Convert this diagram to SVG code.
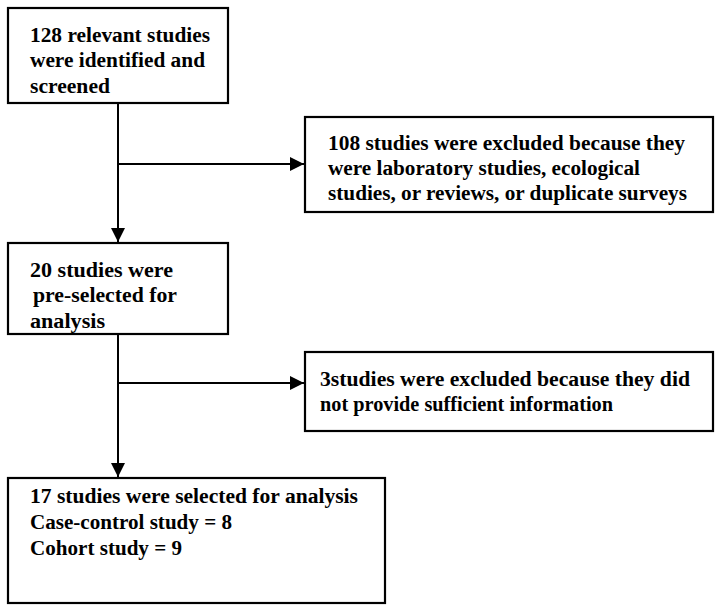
<svg xmlns="http://www.w3.org/2000/svg" width="721" height="612" viewBox="0 0 721 612">
<defs>
<style>
.box{fill:#fff;stroke:#000;stroke-width:2.2}
.t{font-family:'Liberation Serif','DejaVu Serif','Times New Roman',serif;font-weight:bold;font-size:20px;fill:#000}
.ln{fill:none;stroke:#000;stroke-width:2}
</style>
<marker id="ah" viewBox="0 0 10 10" refX="10" refY="5" markerWidth="7" markerHeight="7" orient="auto" markerUnits="strokeWidth">
<path d="M0,0 L10,5 L0,10 z" fill="#000"/>
</marker>
</defs>
<rect width="721" height="612" fill="#fff"/>
<g id="connectors">
<path class="ln" d="M118,103 V242" marker-end="url(#ah)"/>
<path class="ln" d="M118,164 H304" marker-end="url(#ah)"/>
<path class="ln" d="M118,334 V477" marker-end="url(#ah)"/>
<path class="ln" d="M118,383 H304" marker-end="url(#ah)"/>
</g>
<g id="n1">
<rect class="box" x="8" y="8" width="220" height="95"/>
<text class="t" x="30" y="42" textLength="180" lengthAdjust="spacingAndGlyphs">128 relevant studies</text>
<text class="t" x="30" y="67" textLength="175" lengthAdjust="spacingAndGlyphs">were identified and</text>
<text class="t" x="30" y="93" textLength="80" lengthAdjust="spacingAndGlyphs">screened</text>
</g>
<g id="n2">
<rect class="box" x="305" y="117" width="408" height="95"/>
<text class="t" x="328" y="150" textLength="357" lengthAdjust="spacingAndGlyphs">108 studies were excluded because they</text>
<text class="t" x="328" y="175" textLength="312" lengthAdjust="spacingAndGlyphs">were laboratory studies, ecological</text>
<text class="t" x="328" y="200" textLength="359" lengthAdjust="spacingAndGlyphs">studies, or reviews, or duplicate surveys</text>
</g>
<g id="n3">
<rect class="box" x="8" y="243" width="220" height="91"/>
<text class="t" x="30" y="277" textLength="143" lengthAdjust="spacingAndGlyphs">20 studies were</text>
<text class="t" x="33" y="302" textLength="144" lengthAdjust="spacingAndGlyphs">pre-selected for</text>
<text class="t" x="30" y="328" textLength="75" lengthAdjust="spacingAndGlyphs">analysis</text>
</g>
<g id="n4">
<rect class="box" x="305" y="352" width="408" height="79"/>
<text class="t" x="320" y="386" textLength="370" lengthAdjust="spacingAndGlyphs">3studies were excluded because they did</text>
<text class="t" x="320" y="411" textLength="293" lengthAdjust="spacingAndGlyphs">not provide sufficient information</text>
</g>
<g id="n5">
<rect class="box" x="8" y="478" width="377" height="125"/>
<text class="t" x="30" y="503" textLength="328" lengthAdjust="spacingAndGlyphs">17 studies were selected for analysis</text>
<text class="t" x="30" y="529" textLength="202" lengthAdjust="spacingAndGlyphs">Case-control study = 8</text>
<text class="t" x="30" y="555" textLength="152" lengthAdjust="spacingAndGlyphs">Cohort study = 9</text>
</g>
</svg>
